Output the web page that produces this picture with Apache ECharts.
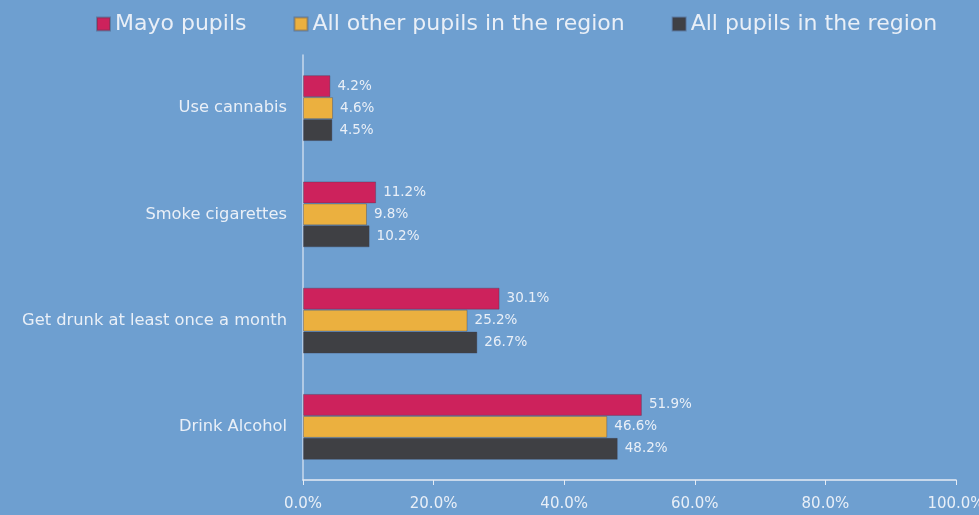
<!DOCTYPE html>
<html>
<head>
<meta charset="utf-8">
<script src="https://cdn.jsdelivr.net/npm/echarts@6/dist/echarts.min.js"></script>
<style>
html,body{margin:0;padding:0;background:#6E9FD0;}
#chart{width:979px;height:515px;}
</style>
</head>
<body>
<div id="chart"></div>
<script>
var categories = ['Use cannabis', 'Smoke cigarettes', 'Get drunk at least once a month', 'Drink Alcohol'];
var seriesNames = ['Mayo pupils', 'All other pupils in the region', 'All pupils in the region'];
var mayo = [4.2, 11.2, 30.1, 51.9];
var otherPupils = [4.6, 9.8, 25.2, 46.6];
var allPupils = [4.5, 10.2, 26.7, 48.2];
var colors = ['#CD225C', '#EBB03F', '#3F4044'];

var FONT = 'DejaVu Sans';
var TXT = '#E9EFF7';
var chart = echarts.init(document.getElementById('chart'));
function mk(name, data, color) {
  return {
    name: name, type: 'bar', data: data, barGap: '0%', barCategoryGap: '38%',
    itemStyle: {color: color, borderColor: 'rgba(60,60,80,0.35)', borderWidth: 1},
    label: {show: true, position: 'right', distance: 7, color: TXT, fontFamily: FONT, fontSize: 13.5,
      formatter: function (p) { return p.value.toFixed(1) + '%'; }},
    emphasis: {disabled: true}, animation: false
  };
}
chart.setOption({
  backgroundColor: '#6E9FD0',
  animation: false,
  legend: {
    top: 8, left: 91, itemWidth: 13, itemHeight: 13, itemGap: 47, icon: 'rect',
    textStyle: {color: TXT, fontFamily: FONT, fontSize: 22},
    data: seriesNames
  },
  grid: {left: 303, right: 23, top: 55, bottom: 35, containLabel: false, outerBoundsMode: 'none'},
  xAxis: {
    type: 'value', min: 0, max: 100, interval: 20,
    axisLine: {show: true, lineStyle: {color: '#E6ECF4', width: 1.5}},
    axisTick: {show: true, length: 5, lineStyle: {color: '#E6ECF4'}},
    splitLine: {show: false},
    axisLabel: {color: TXT, fontFamily: FONT, fontSize: 15, margin: 17,
      formatter: function (v) { return v.toFixed(1) + '%'; }}
  },
  yAxis: {
    type: 'category', data: categories, inverse: true,
    axisLine: {show: true, lineStyle: {color: '#C9D9EC', width: 1.5}},
    axisTick: {show: false},
    axisLabel: {color: TXT, fontFamily: FONT, fontSize: 16.3, margin: 16}
  },
  series: [mk(seriesNames[0], mayo, colors[0]), mk(seriesNames[1], otherPupils, colors[1]), mk(seriesNames[2], allPupils, colors[2])]
});
</script>
</body>
</html>
